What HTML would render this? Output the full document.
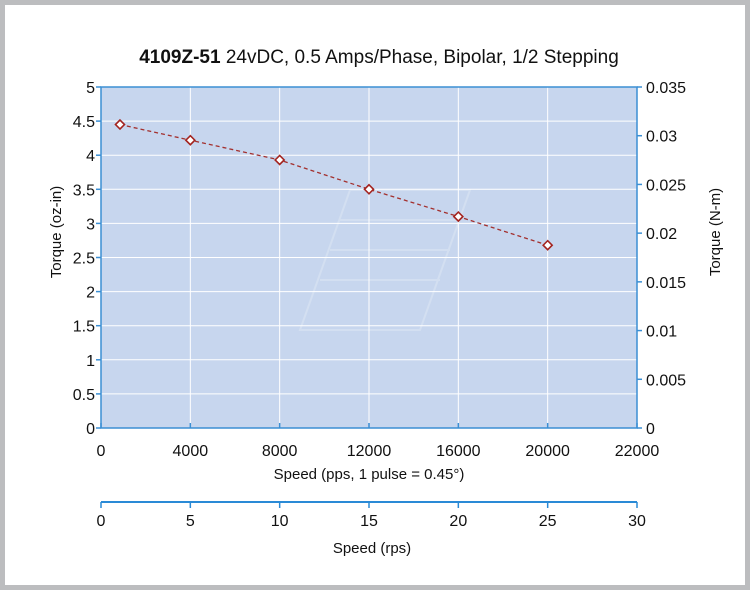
<!DOCTYPE html>
<html><head><meta charset="utf-8"><style>
html,body{margin:0;padding:0;background:#bcbdbf;}
#frame{position:absolute;left:5px;top:5px;width:740px;height:580px;background:#fff;}
svg{position:absolute;left:0;top:0;}
text{font-family:"Liberation Sans",sans-serif;fill:#111;}
</style></head><body>
<div id="frame"></div>
<svg id="chart" width="750" height="590"></svg>
<script>
const speedsPps = [850, 4000, 8000, 12000, 16000, 20000];
const torqueOzIn = [4.45, 4.22, 3.93, 3.50, 3.10, 2.68];
const xTickValues = [0, 4000, 8000, 12000, 16000, 20000, 24000];
const xTickLabels = ["0", "4000", "8000", "12000", "16000", "20000", "22000"];
const yLeftTicks = [0, 0.5, 1, 1.5, 2, 2.5, 3, 3.5, 4, 4.5, 5];
const yLeftLabels = ["0", "0.5", "1", "1.5", "2", "2.5", "3", "3.5", "4", "4.5", "5"];
const yRightTicks = [0, 0.005, 0.01, 0.015, 0.02, 0.025, 0.03, 0.035];
const yRightLabels = ["0", "0.005", "0.01", "0.015", "0.02", "0.025", "0.03", "0.035"];
const rpsTicks = [0, 5, 10, 15, 20, 25, 30];

const NS = "http://www.w3.org/2000/svg";
const svg = document.getElementById("chart");
const L = 101, R = 637, T = 87, B = 428;
const xMax = 24000, yMax = 5, yRMax = 0.035, rpsMax = 30;
const xs = v => L + v / xMax * (R - L);
const ys = v => B - v / yMax * (B - T);
const ysR = v => B - v / yRMax * (B - T);
const xr = v => L + v / rpsMax * (R - L);

function mk(tag, attrs, parent) {
  const e = document.createElementNS(NS, tag);
  for (const k in attrs) e.setAttribute(k, attrs[k]);
  (parent || svg).appendChild(e);
  return e;
}
function txt(s, x, y, size, anchor, extra) {
  const t = mk("text", Object.assign({x: x, y: y, "font-size": size, "text-anchor": anchor}, extra || {}));
  t.textContent = s;
  return t;
}

const bg = mk("rect", {x: L, y: T, width: R - L, height: B - T, fill: "#c7d6ee"});



// faint watermark
const wm = mk("g", {stroke: "#d3dff1", "stroke-width": 2, fill: "none"});


mk("path", {d: "M300 330 L350 190 L470 190 L420 330 Z M330 250 L450 250 M320 280 L440 280 M340 220 L460 220"}, wm);

// grid
yLeftTicks.forEach((v, i) => {
  if (v === 0 || v === yMax) return;
  const g = mk("line", {x1: L, x2: R, y1: ys(v), y2: ys(v), stroke: "#fff", "stroke-width": 1});
  
  
});
xTickValues.forEach(v => {
  if (v === 0 || v === xMax) return;
  const g = mk("line", {x1: xs(v), x2: xs(v), y1: T, y2: B, stroke: "#fff", "stroke-width": 1});
  
  
});

// axes frame
const ax = mk("rect", {x: L, y: T, width: R - L, height: B - T, fill: "none", stroke: "#3b8fd4", "stroke-width": 1.5});



yLeftTicks.forEach((v, i) => {
  mk("line", {x1: L - 5, x2: L, y1: ys(v), y2: ys(v), stroke: "#3b8fd4", "stroke-width": 1.5});
  const t = txt(yLeftLabels[i], L - 6, ys(v) + 6, 16, "end");
  
  
});
yRightTicks.forEach((v, i) => {
  mk("line", {x1: R, x2: R + 5, y1: ysR(v), y2: ysR(v), stroke: "#3b8fd4", "stroke-width": 1.5});
  const t = txt(yRightLabels[i], R + 9, ysR(v) + 6, 16, "start");
  
  
});
xTickValues.forEach((v, i) => {
  mk("line", {x1: xs(v), x2: xs(v), y1: B - 5, y2: B, stroke: "#3b8fd4", "stroke-width": 1.5});
  const t = txt(xTickLabels[i], xs(v), B + 28, 16, "middle");
  
  
});

const yr = 502;
const ra = mk("line", {x1: L, x2: R, y1: yr, y2: yr, stroke: "#2a8ad6", "stroke-width": 2});


rpsTicks.forEach(v => {
  mk("line", {x1: xr(v), x2: xr(v), y1: yr, y2: yr + 6, stroke: "#2a8ad6", "stroke-width": 1.5});
  const t = txt(String(v), xr(v), yr + 24, 16, "middle");
  
  
});

const pts = speedsPps.map((s, i) => xs(s) + "," + ys(torqueOzIn[i])).join(" ");
const pl = mk("polyline", {points: pts, fill: "none", stroke: "#a3302e", "stroke-width": 1.3, "stroke-dasharray": "4,3"});


speedsPps.forEach((s, i) => {
  const cx = xs(s), cy = ys(torqueOzIn[i]);
  const m = mk("path", {d: `M${cx} ${cy-4.5} L${cx+4.5} ${cy} L${cx} ${cy+4.5} L${cx-4.5} ${cy} Z`, fill: "#fff", stroke: "#a3231f", "stroke-width": 1.6});
  
  
});

const title = mk("text", {x: 379, y: 63, "font-size": 19, "text-anchor": "middle"});


const b = mk("tspan", {"font-weight": "bold"}, title); b.textContent = "4109Z-51";
const n = mk("tspan", {}, title); n.textContent = " 24vDC, 0.5 Amps/Phase, Bipolar, 1/2 Stepping";

const xt = txt("Speed (pps, 1 pulse = 0.45°)", 369, 479, 15, "middle");


const rt = txt("Speed (rps)", 372, 553, 15, "middle");


const yl = txt("Torque (oz-in)", 0, 0, 15, "middle", {transform: "translate(61,232) rotate(-90)"});


const yrT = txt("Torque (N-m)", 0, 0, 15, "middle", {transform: "translate(720,232) rotate(-90)"});


</script>
</body></html>
